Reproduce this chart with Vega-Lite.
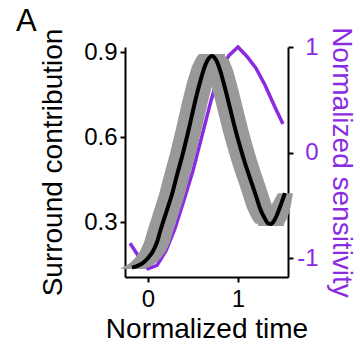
{
  "$schema": "https://vega.github.io/schema/vega-lite/v6.json",
  "width": 163,
  "height": 230,
  "autosize": {"type": "none"},
  "padding": {"left": 125, "top": 47, "right": 72, "bottom": 70},
  "background": "white",
  "config": {
    "view": {"stroke": null},
    "font": "Liberation Sans",
    "axis": {
      "grid": false,
      "domainColor": "black",
      "domainWidth": 2,
      "tickColor": "black",
      "tickWidth": 2,
      "tickSize": 5,
      "labelFont": "Liberation Sans",
      "labelFontSize": 24,
      "labelColor": "black",
      "titleFont": "Liberation Sans",
      "titleFontSize": 28,
      "titleFontWeight": "normal",
      "titleColor": "black"
    }
  },
  "title": {
    "text": "A",
    "anchor": "start",
    "frame": "group",
    "fontSize": 31,
    "fontWeight": "normal",
    "font": "Liberation Sans",
    "color": "black",
    "dx": -109,
    "dy": 15
  },
  "datasets": {
    "sens": [
      {"t": -0.2, "s": -0.86}, {"t": -0.1, "s": -0.99}, {"t": 0.0, "s": -1.10},
      {"t": 0.1, "s": -1.07}, {"t": 0.2, "s": -0.93}, {"t": 0.3, "s": -0.72},
      {"t": 0.4, "s": -0.45}, {"t": 0.5, "s": -0.17}, {"t": 0.6, "s": 0.16},
      {"t": 0.7, "s": 0.49}, {"t": 0.8, "s": 0.78}, {"t": 0.9, "s": 0.92},
      {"t": 1.0, "s": 1.0}, {"t": 1.1, "s": 0.91}, {"t": 1.2, "s": 0.80},
      {"t": 1.3, "s": 0.64}, {"t": 1.4, "s": 0.45}, {"t": 1.5, "s": 0.27}
    ],
    "mean": [
      {"t": -0.178, "v": 0.139}, {"t": -0.111, "v": 0.146}, {"t": -0.056, "v": 0.156},
      {"t": 0.0, "v": 0.173}, {"t": 0.056, "v": 0.198}, {"t": 0.1, "v": 0.229},
      {"t": 0.133, "v": 0.265}, {"t": 0.2, "v": 0.332}, {"t": 0.267, "v": 0.399},
      {"t": 0.322, "v": 0.466}, {"t": 0.389, "v": 0.544}, {"t": 0.456, "v": 0.632},
      {"t": 0.522, "v": 0.724}, {"t": 0.578, "v": 0.794}, {"t": 0.633, "v": 0.851},
      {"t": 0.678, "v": 0.879}, {"t": 0.711, "v": 0.886}, {"t": 0.756, "v": 0.872},
      {"t": 0.8, "v": 0.837}, {"t": 0.844, "v": 0.787}, {"t": 0.889, "v": 0.731},
      {"t": 0.933, "v": 0.674}, {"t": 0.978, "v": 0.618}, {"t": 1.022, "v": 0.568},
      {"t": 1.067, "v": 0.519}, {"t": 1.111, "v": 0.476}, {"t": 1.156, "v": 0.434},
      {"t": 1.2, "v": 0.392}, {"t": 1.244, "v": 0.349}, {"t": 1.289, "v": 0.318},
      {"t": 1.333, "v": 0.296}, {"t": 1.367, "v": 0.293}, {"t": 1.4, "v": 0.304},
      {"t": 1.433, "v": 0.325}, {"t": 1.467, "v": 0.353}, {"t": 1.522, "v": 0.402}
    ],
    "band": [
      {"seg": "a", "v": 0.134, "lo": -0.311, "hi": -0.034},
      {"seg": "a", "v": 0.145, "lo": -0.255, "hi": 0.033},
      {"seg": "a", "v": 0.155, "lo": -0.2, "hi": 0.088},
      {"seg": "a", "v": 0.173, "lo": -0.144, "hi": 0.144},
      {"seg": "a", "v": 0.198, "lo": -0.088, "hi": 0.2},
      {"seg": "a", "v": 0.229, "lo": -0.044, "hi": 0.244},
      {"seg": "a", "v": 0.265, "lo": -0.011, "hi": 0.277},
      {"seg": "a", "v": 0.332, "lo": 0.056, "hi": 0.344},
      {"seg": "a", "v": 0.399, "lo": 0.123, "hi": 0.411},
      {"seg": "a", "v": 0.466, "lo": 0.178, "hi": 0.466},
      {"seg": "a", "v": 0.544, "lo": 0.245, "hi": 0.533},
      {"seg": "a", "v": 0.632, "lo": 0.312, "hi": 0.6},
      {"seg": "a", "v": 0.724, "lo": 0.378, "hi": 0.666},
      {"seg": "a", "v": 0.794, "lo": 0.434, "hi": 0.722},
      {"seg": "a", "v": 0.851, "lo": 0.489, "hi": 0.777},
      {"seg": "a", "v": 0.879, "lo": 0.534, "hi": 0.822},
      {"seg": "a", "v": 0.893, "lo": 0.567, "hi": 0.855},
      {"seg": "b", "v": 0.893, "lo": 0.567, "hi": 0.855},
      {"seg": "b", "v": 0.886, "lo": 0.567, "hi": 0.855},
      {"seg": "b", "v": 0.872, "lo": 0.612, "hi": 0.9},
      {"seg": "b", "v": 0.837, "lo": 0.656, "hi": 0.944},
      {"seg": "b", "v": 0.787, "lo": 0.7, "hi": 0.988},
      {"seg": "b", "v": 0.731, "lo": 0.745, "hi": 1.033},
      {"seg": "b", "v": 0.674, "lo": 0.789, "hi": 1.077},
      {"seg": "b", "v": 0.618, "lo": 0.834, "hi": 1.122},
      {"seg": "b", "v": 0.568, "lo": 0.878, "hi": 1.166},
      {"seg": "b", "v": 0.519, "lo": 0.923, "hi": 1.211},
      {"seg": "b", "v": 0.476, "lo": 0.967, "hi": 1.255},
      {"seg": "b", "v": 0.434, "lo": 1.012, "hi": 1.3},
      {"seg": "b", "v": 0.392, "lo": 1.056, "hi": 1.344},
      {"seg": "b", "v": 0.349, "lo": 1.1, "hi": 1.388},
      {"seg": "b", "v": 0.318, "lo": 1.145, "hi": 1.433},
      {"seg": "b", "v": 0.296, "lo": 1.189, "hi": 1.477},
      {"seg": "b", "v": 0.293, "lo": 1.223, "hi": 1.511},
      {"seg": "b", "v": 0.286, "lo": 1.223, "hi": 1.511},
      {"seg": "c", "v": 0.286, "lo": 1.223, "hi": 1.511},
      {"seg": "c", "v": 0.293, "lo": 1.223, "hi": 1.511},
      {"seg": "c", "v": 0.304, "lo": 1.27, "hi": 1.53},
      {"seg": "c", "v": 0.325, "lo": 1.31, "hi": 1.56},
      {"seg": "c", "v": 0.353, "lo": 1.36, "hi": 1.585},
      {"seg": "c", "v": 0.402, "lo": 1.444, "hi": 1.611}
    ]
  },
  "layer": [
    {
      "data": {"name": "sens"},
      "mark": {"type": "line", "color": "#8A2BE2", "strokeWidth": 3.5, "clip": false},
      "encoding": {
        "x": {
          "field": "t", "type": "quantitative", "title": "Normalized time",
          "scale": {"domain": [-0.256, 1.556], "nice": false, "zero": false},
          "axis": {"values": [0, 1], "format": "d", "labelPadding": 5, "titlePadding": 4, "labelFlush": false}
        },
        "y": {
          "field": "s", "type": "quantitative", "title": "Normalized sensitivity",
          "scale": {"domain": [-1.18, 1.0], "nice": false, "zero": false},
          "axis": {
            "orient": "right", "values": [-1, 0, 1],
            "titleColor": "#8A2BE2", "labelColor": "#8A2BE2",
            "labelAlign": "right", "labelPadding": 25,
            "labelExpr": "toString(datum.value)",
            "titlePadding": 8, "labelFlush": false
          }
        }
      }
    },
    {
      "layer": [
        {
          "data": {"name": "band"},
          "mark": {"type": "area", "orient": "horizontal", "color": "#999999", "opacity": 1, "clip": false},
          "encoding": {
            "y": {
              "field": "v", "type": "quantitative", "title": "Surround contribution",
              "scale": {"domain": [0.106, 0.918], "nice": false, "zero": false},
              "axis": {"orient": "left", "values": [0.3, 0.6, 0.9], "format": ".1f", "labelPadding": 3, "titlePadding": 16, "labelFlush": false}
            },
            "x": {"field": "lo", "type": "quantitative", "title": "Normalized time", "stack": null},
            "x2": {"field": "hi"},
            "detail": {"field": "seg"}
          }
        },
        {
          "data": {"name": "mean"},
          "mark": {"type": "line", "color": "black", "strokeWidth": 4, "interpolate": "monotone", "clip": false},
          "encoding": {
            "x": {"field": "t", "type": "quantitative", "title": "Normalized time"},
            "y": {"field": "v", "type": "quantitative", "title": "Surround contribution"}
          }
        }
      ]
    }
  ],
  "resolve": {"scale": {"y": "independent"}}
}
